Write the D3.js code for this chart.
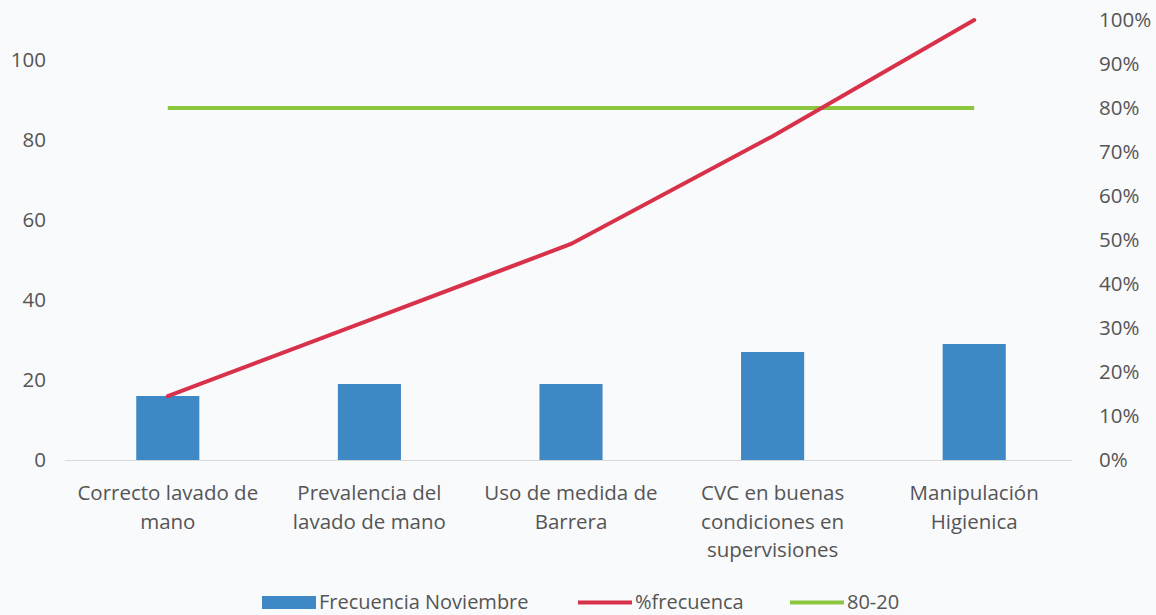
<!DOCTYPE html>
<html><head><meta charset="utf-8">
<script src="https://cdn.jsdelivr.net/npm/d3@7"></script>
<style>
html,body{margin:0;padding:0;background:#f9fafc;}
svg{display:block;font-family:"Open Sans",Lato,sans-serif;}
</style></head><body>
<svg id="c" width="1156" height="615"></svg>
<script>
const categories = [
  ["Correcto lavado de","mano"],
  ["Prevalencia del","lavado de mano"],
  ["Uso de medida de","Barrera"],
  ["CVC en buenas","condiciones en","supervisiones"],
  ["Manipulación","Higienica"]
];
const frecuencia = [16, 19, 19, 27, 29];
const pctFrecuencia = [0.145, 0.318, 0.491, 0.736, 1.0];
const linea8020 = [0.8, 0.8, 0.8, 0.8, 0.8];
const leftTicks = [0, 20, 40, 60, 80, 100];
const rightTicks = [0,0.1,0.2,0.3,0.4,0.5,0.6,0.7,0.8,0.9,1.0];
const legendLabels = ["Frecuencia Noviembre","%frecuenca","80-20"];

const svg = d3.select("#c");
const textColor = "#555555";
const fontSize = "20.5px";
const barColor = "#3f88c6", redColor = "#d8324b", greenColor = "#8cc63e";
const pLeft = 67, pRight = 1075, pTop = 20, pBottom = 460;

const keys = categories.map((c,i)=>i);
const x = d3.scaleBand().domain(keys).range([pLeft,pRight]).paddingInner(0.687).paddingOuter(0.3435);
const yL = d3.scaleLinear().domain([0,110]).range([pBottom,pTop]);
const yR = d3.scaleLinear().domain([0,1]).range([pBottom,pTop]);

// baseline
svg.append("line").attr("x1",pLeft-2).attr("x2",pRight-3).attr("y1",pBottom+0.5).attr("y2",pBottom+0.5)
  .attr("stroke","#d9d9d9").attr("stroke-width",1);

// bars
svg.append("g").selectAll("rect").data(frecuencia).join("rect")
  .attr("x",(d,i)=>x(i)).attr("width",x.bandwidth())
  .attr("y",d=>yL(d)).attr("height",d=>pBottom-yL(d)).attr("fill",barColor);

// left axis
const axL = d3.axisLeft(yL).tickValues(leftTicks).tickSize(0).tickPadding(0);
const gL = svg.append("g").attr("transform",`translate(46,0)`).call(axL);
gL.select(".domain").remove();
gL.selectAll("text").attr("fill",textColor).style("font-size",fontSize).style("font-family","Open Sans");

// right axis
const axR = d3.axisRight(yR).tickValues(rightTicks).tickFormat(d3.format(".0%")).tickSize(0).tickPadding(0);
const gR = svg.append("g").attr("transform",`translate(1099,0)`).call(axR);
gR.select(".domain").remove();
gR.selectAll("text").attr("fill",textColor).style("font-size",fontSize).style("font-family","Open Sans");

// lines
const lineGen = d3.line().x((d,i)=>x(i)+x.bandwidth()/2).y(d=>yR(d));
svg.append("path").datum(linea8020).attr("d",lineGen).attr("fill","none")
  .attr("stroke",greenColor).attr("stroke-width",4);
svg.append("path").datum(pctFrecuencia).attr("d",lineGen).attr("fill","none")
  .attr("stroke",redColor).attr("stroke-width",4).attr("stroke-linecap","round");

// x labels
const gx = svg.append("g");
categories.forEach((lines,i)=>{
  const t = gx.append("text").attr("text-anchor","middle").attr("fill",textColor)
    .style("font-size",fontSize);
  lines.forEach((ln,j)=>{
    t.append("tspan").attr("x",x(i)+x.bandwidth()/2).attr("y",500+j*28.5).text(ln);
  });
});

// legend
const lg = svg.append("g");
const legendItems = [
  {label:legendLabels[0], type:"rect", color:barColor, x:262},
  {label:legendLabels[1], type:"line", color:redColor, x:578},
  {label:legendLabels[2], type:"line", color:greenColor, x:790}
];
legendItems.forEach(it=>{
  if(it.type==="rect"){
    lg.append("rect").attr("x",it.x).attr("y",596).attr("width",54).attr("height",13).attr("fill",it.color);
  } else {
    lg.append("line").attr("x1",it.x).attr("x2",it.x+54).attr("y1",602.5).attr("y2",602.5)
      .attr("stroke",it.color).attr("stroke-width",4);
  }
  lg.append("text").attr("x",it.x+57).attr("y",609).attr("fill",textColor)
    .style("font-size","20px").text(it.label);
});
</script>
</body></html>
